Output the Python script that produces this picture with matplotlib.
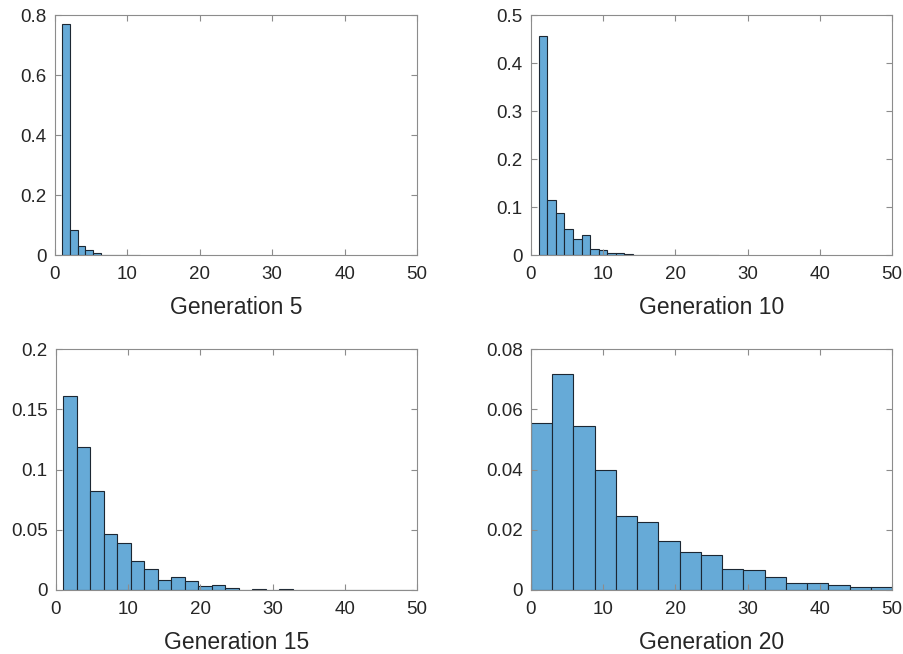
import matplotlib.pyplot as plt
import numpy as np

plt.rcParams['font.family'] = ['Liberation Sans', 'DejaVu Sans']

# probability per bin
gen5 = [0.769, 0.083, 0.029, 0.0156, 0.0067, 0.001, 0.0, 0.0, 0.0, 0.0005]
gen10 = [0.456, 0.115, 0.0875, 0.054, 0.033, 0.042, 0.0125, 0.0097, 0.004, 0.0035,
         0.002, 0.0, 0.0004, 0.0004, 0.0004, 0.0, 0.0004, 0.0004, 0.0, 0.0, 0.0004]
gen15 = [0.1614, 0.1183, 0.0819, 0.0467, 0.0389, 0.0242, 0.0175, 0.0083, 0.0106, 0.0078,
         0.0031, 0.0042, 0.0017, 0.0003, 0.0008, 0.0003, 0.0008, 0.0003, 0.0, 0.0003,
         0.0, 0.0, 0.0, 0.0, 0.0, 0.0003]
gen20 = [0.0554, 0.0716, 0.0544, 0.0400, 0.0244, 0.0227, 0.0162, 0.0126, 0.0115, 0.0069,
         0.0065, 0.0044, 0.0022, 0.0022, 0.0018, 0.0009, 0.0011]

bin_start = [1.0, 1.05, 1.0, 0.0]
bin_width = [1.07, 1.19, 1.87, 50 / 17]
titles = ["Generation 5", "Generation 10", "Generation 15", "Generation 20"]
ylims = [0.8, 0.5, 0.2, 0.08]
yticks = [[0, 0.2, 0.4, 0.6, 0.8],
          [0, 0.1, 0.2, 0.3, 0.4, 0.5],
          [0, 0.05, 0.1, 0.15, 0.2],
          [0, 0.02, 0.04, 0.06, 0.08]]
yticklabels = [["0", "0.2", "0.4", "0.6", "0.8"],
               ["0", "0.1", "0.2", "0.3", "0.4", "0.5"],
               ["0", "0.05", "0.1", "0.15", "0.2"],
               ["0", "0.02", "0.04", "0.06", "0.08"]]
xticks = [0, 10, 20, 30, 40, 50]

fig = plt.figure(figsize=(9.04, 6.54), dpi=100)
W, H = 904, 654
boxes = [(55, 15, 417, 255), (531, 15, 892, 255), (56, 349, 417, 590), (531, 349, 892, 590)]

for i, vals in enumerate([gen5, gen10, gen15, gen20]):
    l, t, r, b = boxes[i]
    ax = fig.add_axes([l / W, 1 - b / H, (r - l) / W, (b - t) / H])
    x = bin_start[i] + bin_width[i] * np.arange(len(vals))
    ax.bar(x, vals, width=bin_width[i], align='edge', color='#66aad7',
           edgecolor='#1c2733', linewidth=0.8)
    ax.set_xlim(0, 50)
    ax.set_ylim(0, ylims[i])
    ax.set_xticks(xticks)
    ax.set_yticks(yticks[i])
    ax.set_yticklabels(yticklabels[i])
    ax.tick_params(direction='in', top=True, right=True, length=4, width=0.8,
                   color='#8c8c8c', labelsize=13.5, labelcolor='#262626')
    ax.tick_params(axis='x', pad=8)
    ax.tick_params(axis='y', pad=6)
    for s in ax.spines.values():
        s.set_color('#8c8c8c')
        s.set_linewidth(0.8)
    ax.set_xlabel(titles[i], fontsize=16.5, color='#262626', labelpad=9)

plt.savefig("out.png", dpi=100)
